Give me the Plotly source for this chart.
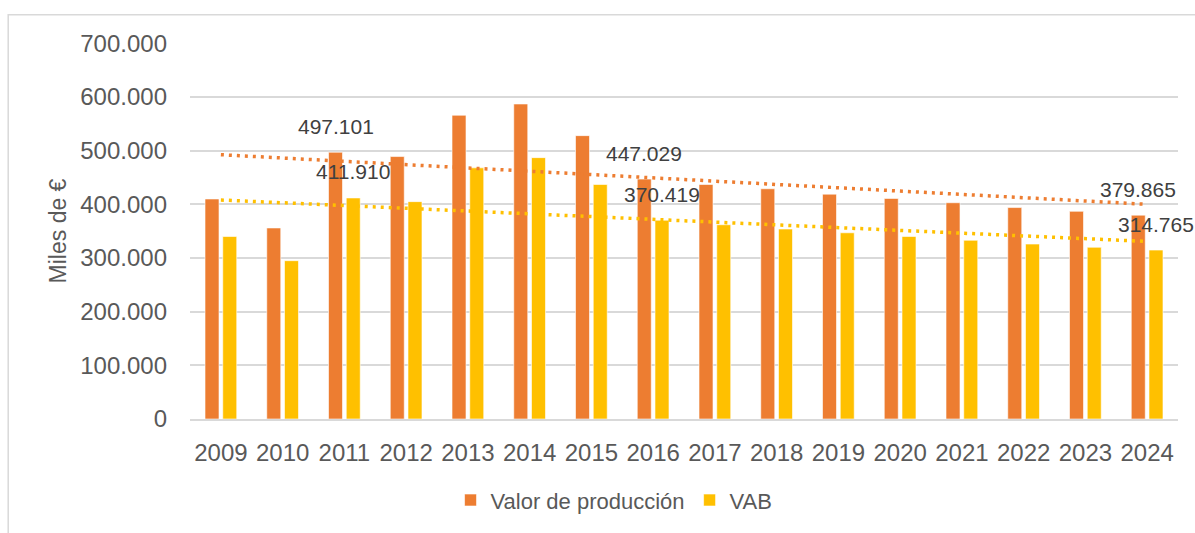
import numpy as np
import plotly.graph_objects as go

years = ["2009", "2010", "2011", "2012", "2013", "2014", "2015", "2016",
         "2017", "2018", "2019", "2020", "2021", "2022", "2023", "2024"]
valor_produccion = [410000, 356000, 497101, 489000, 566000, 587000, 528000, 447029,
                    437000, 429000, 419000, 411000, 403000, 394000, 387000, 379865]
vab = [340000, 295000, 411910, 405000, 468000, 487000, 437000, 370419,
       362000, 354000, 347000, 340000, 333000, 326000, 320000, 314765]
labelled_years = ["2011", "2016", "2024"]
y_ticks = [0, 100000, 200000, 300000, 400000, 500000, 600000, 700000]

ORANGE = "#ED7D31"
YELLOW = "#FFC000"
GRID = "#d9d9d9"
TXT = "#595959"
FONT = "Liberation Sans, Arial, sans-serif"


def fmt(v):
    return f"{v:,.0f}".replace(",", ".")


def trend(vals):
    x = np.arange(len(vals))
    m, b = np.polyfit(x, np.asarray(vals, dtype=float), 1)
    return m * x + b


fig = go.Figure()
fig.add_trace(go.Bar(x=years, y=valor_produccion, name="Valor de producción",
                     marker=dict(color=ORANGE, line=dict(color="rgba(255,255,255,0.6)", width=1))))
fig.add_trace(go.Bar(x=years, y=vab, name="VAB",
                     marker=dict(color=YELLOW, line=dict(color="rgba(255,255,255,0.6)", width=1))))
fig.add_trace(go.Scatter(x=years, y=trend(valor_produccion), mode="lines", showlegend=False,
                         line=dict(color=ORANGE, width=3.5, dash="3px,5px"), hoverinfo="skip"))
fig.add_trace(go.Scatter(x=years, y=trend(vab), mode="lines", showlegend=False,
                         line=dict(color=YELLOW, width=3.5, dash="3px,5px"), hoverinfo="skip"))

annotations = []
for yr in labelled_years:
    i = years.index(yr)
    for vals, shift in ((valor_produccion, -8.85), (vab, 8.85)):
        annotations.append(dict(x=i, y=vals[i], xref="x", yref="y", text=fmt(vals[i]),
                                showarrow=False, xshift=shift, yshift=26,
                                xanchor="center", yanchor="middle",
                                font=dict(family=FONT, size=21, color="#404040")))

fig.update_layout(
    width=1195, height=533,
    margin=dict(l=190, r=17, t=43, b=110),
    paper_bgcolor="white", plot_bgcolor="white",
    barmode="group", bargap=0.426, bargroupgap=0.21,
    font=dict(family=FONT, size=24, color=TXT),
    showlegend=True,
    legend=dict(orientation="h", x=0.2637, xanchor="left", y=-0.216, yanchor="middle",
                font=dict(family=FONT, size=22, color=TXT), itemwidth=30,
                bgcolor="rgba(0,0,0,0)"),
    annotations=annotations,
    shapes=[dict(type="rect", xref="paper", yref="paper", x0=-0.184, x1=1.05,
                 y0=-0.32, y1=1.075, line=dict(color=GRID, width=1.5), layer="below")],
)
fig.update_yaxes(range=[0, 700600], tickvals=y_ticks, ticktext=[fmt(v) for v in y_ticks],
                 showgrid=True, gridcolor=GRID, gridwidth=1.5, zeroline=False,
                 showline=False, ticks="", ticklabelstandoff=22,
                 tickfont=dict(family=FONT, size=24, color=TXT),
                 title=dict(text="Miles de €", standoff=7, font=dict(family=FONT, size=23, color=TXT)),
                 automargin=False)
fig.update_xaxes(type="category", range=[-0.5, len(years) - 0.5],
                 showline=True, linecolor=GRID, linewidth=1.5,
                 ticks="", ticklabelstandoff=11, showgrid=False,
                 tickfont=dict(family=FONT, size=24, color=TXT), automargin=False)

fig.write_html("out.html", post_script="document.body.style.margin='0';",
               config={"displayModeBar": False})
